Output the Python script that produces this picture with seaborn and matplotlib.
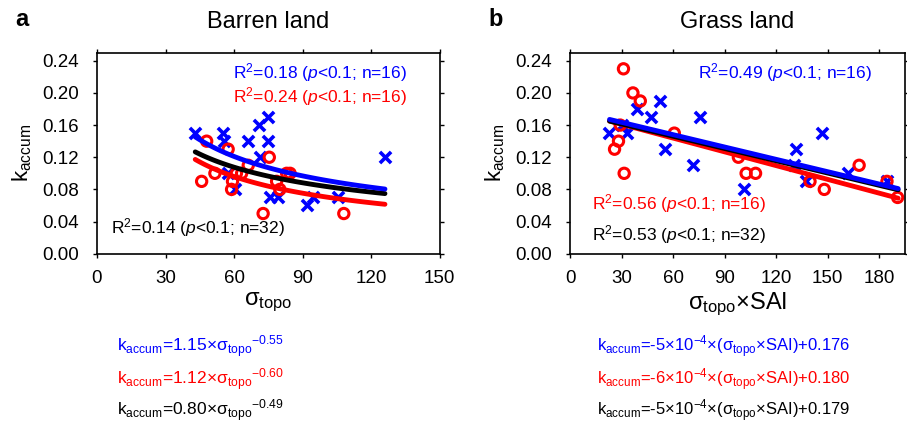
import numpy as np
import pandas as pd
import seaborn as sns
import matplotlib.pyplot as plt

# ---- data ----
# a: barren land, x = sigma_topo
barren_blue_x = [43, 55, 55.7, 65.9, 71, 74.9, 74.9, 71.3, 57.4, 60.3, 75.7, 79.3, 91.7, 94.4, 105.6, 126]
barren_blue_y = [0.15, 0.15, 0.14, 0.14, 0.16, 0.17, 0.14, 0.12, 0.10, 0.08, 0.07, 0.07, 0.06, 0.07, 0.07, 0.12]
barren_red_x = [48, 57.4, 75.4, 45.8, 51.6, 59.3, 58.9, 63.3, 66.2, 78.6, 80, 83, 84.5, 72.7, 108, 61]
barren_red_y = [0.14, 0.13, 0.12, 0.09, 0.10, 0.09, 0.08, 0.10, 0.11, 0.09, 0.08, 0.10, 0.10, 0.05, 0.05, 0.10]

# b: grass land, x = sigma_topo x SAI
grass_blue_x = [22.4, 33.1, 38.9, 47.1, 52.5, 55.2, 71.6, 75.9, 101, 131.3, 130.4, 137.3, 146.5, 161.6, 184.5, 30]
grass_blue_y = [0.15, 0.15, 0.18, 0.17, 0.19, 0.13, 0.11, 0.17, 0.08, 0.13, 0.11, 0.09, 0.15, 0.10, 0.09, 0.16]
grass_red_x = [31.1, 36.6, 40.9, 29.2, 28.2, 25.9, 31.5, 60.7, 98, 102.5, 108, 139.7, 148, 168.3, 184.5, 190.7]
grass_red_y = [0.23, 0.20, 0.19, 0.16, 0.14, 0.13, 0.10, 0.15, 0.12, 0.10, 0.10, 0.09, 0.08, 0.11, 0.09, 0.07]

# fitted curves: power law for (a), line for (b) (slope/intercept as drawn)
barren_fit = {"blue": (1.15, -0.55), "red": (1.12, -0.60), "black": (0.80, -0.49)}
grass_fit = {"blue": (-5.12e-4, 0.1788), "red": (-5.71e-4, 0.1781), "black": (-5.09e-4, 0.1767)}
barren_range = (43, 126)
grass_range = (23, 191)

# printed equations / stats
barren_eq = [("1.15", "-0.55"), ("1.12", "-0.60"), ("0.80", "-0.49")]
grass_eq = [("-5", "0.176"), ("-6", "0.180"), ("-5", "0.179")]
barren_r2 = [("0.18", "16"), ("0.24", "16"), ("0.14", "32")]
grass_r2 = [("0.49", "16"), ("0.56", "16"), ("0.53", "32")]

BLUE, RED, BLACK = "#0000ff", "#ff0000", "#000000"

sns.set_theme(style="white", rc={"text.color": "black", "axes.labelcolor": "black",
                                 "xtick.color": "black", "ytick.color": "black"})
plt.rcParams["font.family"] = ["Liberation Sans", "DejaVu Sans"]
plt.rcParams["mathtext.fontset"] = "custom"
plt.rcParams["mathtext.rm"] = "Liberation Sans"
plt.rcParams["mathtext.it"] = "Liberation Sans:italic"
plt.rcParams["mathtext.sf"] = "Liberation Sans"

fig = plt.figure(figsize=(9.07, 4.28), dpi=100)
ax1 = fig.add_axes([0.1069, 0.4072, 0.378, 0.4696])
ax2 = fig.add_axes([0.6285, 0.4072, 0.3693, 0.4696])


def draw_panel(ax, bx, by, rx, ry, lines):
    for col in ["red", "black", "blue"]:
        c = {"red": RED, "black": BLACK, "blue": BLUE}[col]
        sns.lineplot(x=lines[col][0], y=lines[col][1], ax=ax, color=c, lw=3.5, zorder=3)
    sns.scatterplot(x=bx, y=by, ax=ax, marker="x", color=BLUE, s=65, linewidth=2.6, zorder=2)
    sns.scatterplot(x=rx, y=ry, ax=ax, marker="o", facecolor="none", edgecolor=RED,
                    s=55, linewidth=2.2, zorder=2)


xa = np.linspace(*barren_range, 100)
lines_a = {k: (xa, a * xa ** b) for k, (a, b) in barren_fit.items()}
xb = np.linspace(*grass_range, 100)
lines_b = {k: (xb, m * xb + c) for k, (m, c) in grass_fit.items()}

draw_panel(ax1, barren_blue_x, barren_blue_y, barren_red_x, barren_red_y, lines_a)
draw_panel(ax2, grass_blue_x, grass_blue_y, grass_red_x, grass_red_y, lines_b)

yticks = [0.00, 0.04, 0.08, 0.12, 0.16, 0.20, 0.24]
for ax, xt, xl in [(ax1, [0, 30, 60, 90, 120, 150], (0, 150)),
                   (ax2, [0, 30, 60, 90, 120, 150, 180], (0, 195))]:
    ax.set_xlim(*xl)
    ax.set_ylim(0, 0.25)
    ax.set_xticks(xt)
    ax.set_yticks(yticks)
    ax.set_yticklabels([f"{v:.2f}" for v in yticks])
    ax.tick_params(direction="out", length=3, width=1, labelsize=13.5, color="black",
                   labelcolor="black", top=True, right=True, bottom=True, left=True)
    ax.tick_params(axis="y", pad=10)
    ax.tick_params(axis="x", pad=9)
    for sp in ax.spines.values():
        sp.set_color("black")
        sp.set_linewidth(1.2)
    ax.set_ylabel(r"$\mathregular{k_{accum}}$", fontsize=16, labelpad=6, color="black")

ax1.set_xlabel(r"$\mathregular{\sigma_{topo}}$", fontsize=17, labelpad=2, color="black")
ax2.set_xlabel(r"$\mathregular{\sigma_{topo}}$×SAI", fontsize=17, labelpad=2, color="black")

ax1.set_title("Barren land", fontsize=17, pad=18, color="black")
ax2.set_title("Grass land", fontsize=17, pad=18, color="black")
fig.text(15 / 907, 1 - 19 / 428, "a", fontsize=17, fontweight="bold", va="center", color="black")
fig.text(488 / 907, 1 - 19 / 428, "b", fontsize=17, fontweight="bold", va="center", color="black")

fs = 12.5
r2_fmt = "R$^2$={} ($p$<0.1; n={})"
# R2 annotations (pixel positions of text start / centre)
r2_pos_a = [(233, 73), (233, 97), (111, 228)]
r2_pos_b = [(698, 73), (592, 204), (592, 235)]
cols = [BLUE, RED, BLACK]
for vals, pos in [(barren_r2, r2_pos_a), (grass_r2, r2_pos_b)]:
    for (r2, n), (px, py), c in zip(vals, pos, cols):
        fig.text(px / 907, 1 - py / 428, r2_fmt.format(r2, n), color=c, fontsize=fs, va="center")

# equations
eq_y = [347, 380, 411]
for (a, b), y, c in zip(barren_eq, eq_y, cols):
    txt = (r"$\mathregular{k_{accum}}$=" + a + r"×$\mathregular{\sigma_{topo}}$"
           + r"$^{\mathregular{" + b + "}}$")
    fig.text(117 / 907, 1 - y / 428, txt, color=c, fontsize=12.5, va="center")
for (m, c0), y, c in zip(grass_eq, eq_y, cols):
    txt = (r"$\mathregular{k_{accum}}$=" + m + r"×10$^{\mathregular{-4}}$×($\mathregular{\sigma_{topo}}$×SAI)+"
           + c0)
    fig.text(597 / 907, 1 - y / 428, txt, color=c, fontsize=12, va="center")

fig.savefig("out.png", dpi=100)
